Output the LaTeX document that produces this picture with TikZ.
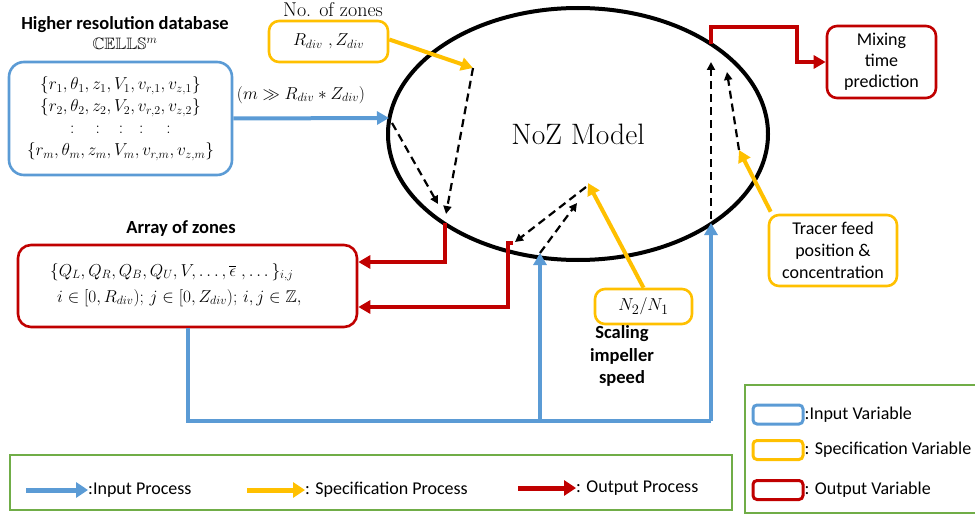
\documentclass[tikz,border=0pt]{standalone}
\usepackage{amsmath,amssymb}
\usepackage{fontspec}
\setsansfont{Carlito}
\usetikzlibrary{arrows.meta,shapes.geometric}
\definecolor{inblue}{HTML}{5B9BD5}
\definecolor{spyellow}{HTML}{FFC000}
\definecolor{outred}{HTML}{C00000}
\definecolor{leggreen}{HTML}{70AD47}
\begin{document}
\begin{tikzpicture}[x=1pt,y=-1pt,
  varbox/.style={draw, line width=2.6pt, inner sep=0pt, align=center, fill=white},
  invar/.style={varbox, draw=inblue, rounded corners=15pt},
  specvar/.style={varbox, draw=spyellow, rounded corners=10pt},
  outvar/.style={varbox, draw=outred, rounded corners=13pt},
  tagtext/.style={font=\sffamily\bfseries\fontsize{18.5}{22.5}\selectfont, align=center, inner sep=0pt},
  plaintext/.style={font=\sffamily\fontsize{18}{22}\selectfont, align=center, inner sep=0pt},
  mathtext/.style={font=\fontsize{17}{22}\selectfont, inner sep=0pt},
  inflow/.style={draw=inblue, line width=4pt, -{Triangle[length=12pt,width=13pt]}},
  specflow/.style={draw=spyellow, line width=4pt, -{Triangle[length=12pt,width=13pt]}},
  outflow/.style={draw=outred, line width=4pt, -{Triangle[length=12pt,width=13pt]}},
  modelflow/.style={draw=black, line width=2.2pt, dash pattern=on 8pt off 5pt, -{Triangle[length=8pt,width=8pt]}},
  legflow/.style={line width=5pt, -{Triangle[length=12pt,width=15pt]}},
  legbox/.style={draw, line width=3pt, rounded corners=4pt, minimum width=50pt, minimum height=19pt, inner sep=0pt}
]
\useasboundingbox (0,0) rectangle (975,516);

% ---------------- model ----------------
\node[draw, ellipse, line width=4pt, minimum width=380pt, minimum height=252pt, inner sep=0pt,
      font=\fontsize{29.5}{32}\selectfont] (noz) at (578,134) {NoZ Model};

% ---------------- high resolution database ----------------
\node[tagtext] (dbtitle) at (125,25) {Higher resolution database};
\node[mathtext, font=\fontsize{16.5}{20}\selectfont] (cells) at (125,44) {$\mathbb{CELLS}^{m}$};
\node[invar, minimum width=223pt, minimum height=113pt, font=\fontsize{17.5}{22}\selectfont] (db) at (120.5,118.5)
  {$\{r_1,\theta_1,z_1,V_1,v_{r,1},v_{z,1}\}$\\
   $\{r_2,\theta_2,z_2,V_2,v_{r,2},v_{z,2}\}$\\
   $:\hspace{21pt}:\hspace{19pt}:\hspace{16pt}:\hspace{23pt}:$\\
   $\{r_m,\theta_m,z_m,V_m,v_{r,m},v_{z,m}\}$};
\node[mathtext, font=\fontsize{18.5}{22}\selectfont] (ratio) at (301,95) {$(m\gg R_{div}*Z_{div})$};

% ---------------- number of zones ----------------
\node[font=\fontsize{20}{22}\selectfont, inner sep=0pt] (nztitle) at (333,10) {No. of zones};
\node[specvar, minimum width=119pt, minimum height=41pt, font=\fontsize{18}{20}\selectfont] (nz) at (328.5,41.5)
  {$R_{div}\ ,Z_{div}$};

% ---------------- array of zones ----------------
\node[tagtext] (artitle) at (181,229) {Array of zones};
\node[outvar, minimum width=339pt, minimum height=82pt] (arr) at (187.5,286) {};
\node[mathtext, anchor=west] (arr1) at (50,272)
  {$\{Q_L,Q_R,Q_B,Q_U,V,\dots,\overline{\epsilon}\ ,\dots\}_{i,j}$};
\node[mathtext, anchor=west] (arr2) at (57,298)
  {$i\in[0,R_{div});\,j\in[0,Z_{div});\,i,j\in\mathbb{Z},$};

% ---------------- impeller speed ----------------
\node[specvar, minimum width=97pt, minimum height=35pt, font=\fontsize{19}{20}\selectfont] (nn) at (643.5,306.5) {$N_2/N_1$};
\node[tagtext] (imp) at (622,356) {Scaling\\impeller\\speed};

% ---------------- tracer and mixing time ----------------
\node[specvar, minimum width=128pt, minimum height=71pt, font=\sffamily\fontsize{18}{22}\selectfont] (tr) at (833,250.5)
  {Tracer feed\\position \&\\concentration};
\node[outvar, rounded corners=10pt, minimum width=109pt, minimum height=72pt, font=\sffamily\fontsize{18}{21}\selectfont] (mix) at (881.5,62)
  {Mixing\\time\\prediction};

% ---------------- points on and inside the model ----------------
\coordinate (mL)   at (389,118);
\coordinate (mL2)  at (392,123);
\coordinate (zA)   at (473,68);
\coordinate (zB)   at (446,214);
\coordinate (zC)   at (438,204);
\coordinate (o1)   at (445,223);
\coordinate (o2)   at (513,243);
\coordinate (o2c)  at (508,243);
\coordinate (sN)   at (588,183);
\coordinate (sNa)  at (586,187);
\coordinate (dD)   at (515,242);
\coordinate (iB)   at (540,253);
\coordinate (dE)   at (577,203);
\coordinate (iC)   at (711,223);
\coordinate (iCd)  at (711,219);
\coordinate (dF)   at (711,62);
\coordinate (sT)   at (739,150);
\coordinate (dG)   at (727,72);
\coordinate (o3)   at (711,44);
\coordinate (bus1) at (188,421);
\coordinate (bus2) at (540,421);
\coordinate (bus3) at (711,421);

% ---------------- input process ----------------
\draw[inflow] (db.east) -- (mL);
\draw[inflow, -] (arr.south -| bus1) -- (bus1) -- (bus3);
\draw[inflow] (bus3) -- (iC);
\draw[inflow] (bus2) -- (iB);

% ---------------- specification process ----------------
\draw[specflow] (nz.east) ++(0,-2) -- (zA);
\draw[specflow] (nn.north) -- (sN);
\draw[specflow] (tr.north west) ++(3,-2) -- (sT);

% ---------------- internal model links ----------------
\draw[modelflow] (zA) -- (zB);
\draw[modelflow] (mL2) -- (zC);
\draw[modelflow] (sNa) -- (dD);
\draw[modelflow] (iB) -- (dE);
\draw[modelflow] (iCd) -- (dF);
\draw[modelflow] (sT) -- (dG);

% ---------------- output process ----------------
\draw[outflow] (o1) -- (o1 |- 0,262) -- (arr.east |- 0,262);
\draw[outflow] (o2) -- (o2c) -- (o2c |- 0,307) -- (arr.east |- 0,307);
\draw[outflow] (o3) -- (711,27) -- (797,27) -- (797,62) -- (mix.west);

% ---------------- process legend ----------------
\node[draw=leggreen, line width=2.5pt, minimum width=722pt, minimum height=55pt, inner sep=0pt] (legP) at (371,482.5) {};
\node[plaintext, anchor=west] (lp1) at (88,490) {:Input Process};
\node[plaintext, anchor=west] (lp2) at (305,490) {: Specification Process};
\node[plaintext, anchor=west] (lp3) at (576,488) {: Output Process};
\coordinate (lp1s) at (26,490);
\coordinate (lp2s) at (247,490);
\coordinate (lp3s) at (518,488);
\draw[legflow, inblue] (lp1s) -- (lp1.west);
\draw[legflow, spyellow] (lp2s) -- (lp2.west);
\draw[legflow, outred] (lp3s) -- (lp3.west);

% ---------------- variable legend ----------------
\draw[leggreen, line width=2.5pt] (976,385) -- (745,385) -- (745,513) -- (976,513);
\node[legbox, draw=inblue] (lv1) at (778,414.5) {};
\node[legbox, draw=spyellow] (lv2) at (778,450) {};
\node[legbox, draw=outred] (lv3) at (778,490) {};
\node[plaintext, anchor=west] (lv1t) at (lv1.east) {:Input Variable};
\node[plaintext, anchor=west] (lv2t) at (lv2.east) {: Specification Variable};
\node[plaintext, anchor=west] (lv3t) at (lv3.east) {: Output Variable};
\end{tikzpicture}
\end{document}
